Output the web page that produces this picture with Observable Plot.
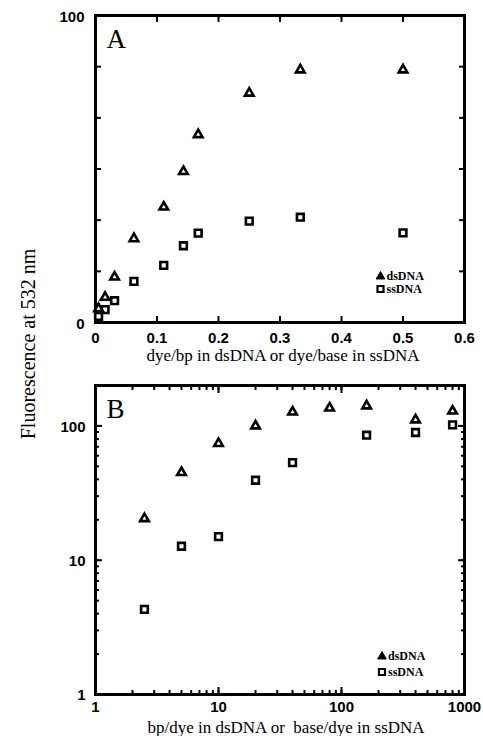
<!DOCTYPE html>
<html><head><meta charset="utf-8">
<script src="https://cdn.jsdelivr.net/npm/d3@7"></script>
<script src="https://cdn.jsdelivr.net/npm/@observablehq/plot@0.6"></script>
<style>
body{margin:0;background:#fff;}
#wrap{position:relative;width:483px;height:736px;overflow:hidden;background:#fff;}
#wrap svg{position:absolute;left:0;z-index:1;}
#ylab{position:absolute;z-index:5;left:28px;top:344px;transform:translate(-50%,-50%) rotate(-90deg);font-family:"Liberation Serif",serif;font-size:20px;white-space:nowrap;color:#000;}
</style></head><body>
<div id="wrap"><div id="ylab">Fluorescence at 532 nm</div></div>
<script>
// ---- Data: panel A (linear) ----
const aDsX = [0.005, 0.0156, 0.031, 0.0625, 0.111, 0.143, 0.167, 0.25, 0.333, 0.5];
const aDsY = [4.5, 8.2, 14.8, 27.3, 37.6, 49.2, 61.2, 74.7, 82.3, 82.3];
const aSsX = [0.005, 0.0156, 0.031, 0.0625, 0.111, 0.143, 0.167, 0.25, 0.333, 0.5];
const aSsY = [2.0, 4.2, 7.1, 13.4, 18.6, 25.0, 29.1, 33.0, 34.3, 29.2];
// ---- Data: panel B (log-log) ----
const bDsX = [2.5, 5, 10, 20, 40, 80, 160, 400, 800];
const bDsY = [20.4, 45, 74, 100, 127, 136, 141, 111, 129];
const bSsX = [2.5, 5, 10, 20, 40, 160, 400, 800];
const bSsY = [4.3, 12.7, 15.0, 39.4, 53.3, 85.3, 89.3, 101.7];
// ---- Ticks / labels ----
const aTicksX = [0, 0.1, 0.2, 0.3, 0.4, 0.5, 0.6];
const aTickLabelsX = ["0", "0.1", "0.2", "0.3", "0.4", "0.5", "0.6"];
const aTicksY = [0, 16.667, 33.333, 50, 66.667, 83.333, 100];
const aLabelTicksY = [0, 100];
const bMajorX = [1, 10, 100, 1000];
const bMajorY = [1, 10, 100];
const series = ["dsDNA", "ssDNA"];
const panelLetters = ["A", "B"];
const xTitleA = "dye/bp in dsDNA or dye/base in ssDNA";
const xTitleB = "bp/dye in dsDNA or\u00a0 base/dye in ssDNA";

const serif = "Liberation Serif";
const sans = "Liberation Sans";
const W = 483, ML = 95, MR = 19;
const pts = (xs, ys) => xs.map((x, i) => ({x, y: ys[i]}));

const tickStyle = {fill: "none", label: null, strokeWidth: 2};
const labStyle = {tickSize: 0, label: null, fontFamily: sans, fontWeight: "bold", fontSize: 15};
const dotStyle = {stroke: "black", fill: "white", strokeWidth: 2.6};

function legend(dx, dyT, dyS) {
  return [
    Plot.dot([series[0]], {frameAnchor: "bottom-right", dx: dx, dy: dyT, symbol: "triangle", r: 3.2, fill: "black", stroke: "black", strokeWidth: 1}),
    Plot.dot([series[1]], {frameAnchor: "bottom-right", dx: dx, dy: dyS, symbol: "square", r: 3.4, fill: "white", stroke: "black", strokeWidth: 2.2}),
    Plot.text([series[0]], {text: d => d, frameAnchor: "bottom-right", dx: dx + 6, dy: dyT, textAnchor: "start", lineAnchor: "middle", fontFamily: serif, fontWeight: "bold", fontSize: 12}),
    Plot.text([series[1]], {text: d => d, frameAnchor: "bottom-right", dx: dx + 6, dy: dyS, textAnchor: "start", lineAnchor: "middle", fontFamily: serif, fontWeight: "bold", fontSize: 12})
  ];
}

const plotA = Plot.plot({
  width: W, height: 365, marginLeft: ML, marginRight: MR, marginTop: 15, marginBottom: 43,
  style: {background: "white", color: "black", overflow: "visible"},
  x: {domain: [0, 0.6]},
  y: {domain: [0, 100]},
  marks: [
    Plot.axisX(aTicksX, {anchor: "bottom", tickSize: -6, ...tickStyle}),
    Plot.axisX(aTicksX, {anchor: "top", tickSize: -6, ...tickStyle}),
    Plot.axisY(aTicksY, {anchor: "right", tickSize: -6, ...tickStyle}),
    Plot.axisY(aTicksY, {anchor: "left", tickSize: -6, ...tickStyle}),
    Plot.axisX(aTicksX, {anchor: "bottom", tickPadding: 10, tickFormat: (d, i) => aTickLabelsX[i], ...labStyle}),
    Plot.axisY(aLabelTicksY, {anchor: "left", tickPadding: 11, dy: 2, tickFormat: d => String(d), ...labStyle}),
    Plot.frame({strokeWidth: 3}),
    Plot.dot(pts(aSsX, aSsY), {x: "x", y: "y", symbol: "square", r: 3.8, ...dotStyle}),
    Plot.dot(pts(aDsX, aDsY), {x: "x", y: "y", symbol: "triangle", r: 3.2, ...dotStyle}),
    ...legend(-84, -46, -33.5),
    Plot.text([panelLetters[0]], {text: d => d, frameAnchor: "top-left", dx: 11, dy: 32, textAnchor: "start", lineAnchor: "bottom", fontFamily: serif, fontSize: 27}),
    Plot.text([xTitleA], {text: d => d, frameAnchor: "bottom", dx: 3, dy: 38, lineAnchor: "bottom", fontFamily: serif, fontSize: 17})
  ]
});

const plotB = Plot.plot({
  width: W, height: 371, marginLeft: ML, marginRight: MR, marginTop: 20, marginBottom: 42,
  style: {background: "white", color: "black", overflow: "visible"},
  x: {type: "log", domain: [1, 1000]},
  y: {type: "log", domain: [1, 200]},
  marks: [
    Plot.axisX({anchor: "bottom", ticks: 30, tickSize: -4, ...tickStyle}),
    Plot.axisX({anchor: "top", ticks: 30, tickSize: -4, ...tickStyle}),
    Plot.axisY({anchor: "left", ticks: 30, tickSize: -4, ...tickStyle}),
    Plot.axisY({anchor: "right", ticks: 30, tickSize: -4, ...tickStyle}),
    Plot.axisX(bMajorX, {anchor: "bottom", tickSize: -7, ...tickStyle}),
    Plot.axisX(bMajorX, {anchor: "top", tickSize: -7, ...tickStyle}),
    Plot.axisY(bMajorY, {anchor: "left", tickSize: -7, ...tickStyle}),
    Plot.axisY(bMajorY, {anchor: "right", tickSize: -7, ...tickStyle}),
    Plot.axisX(bMajorX, {anchor: "bottom", tickPadding: 7, tickFormat: d => String(d), ...labStyle}),
    Plot.axisY(bMajorY, {anchor: "left", tickPadding: 10, dy: 1, tickFormat: d => String(d), ...labStyle}),
    Plot.frame({strokeWidth: 3}),
    Plot.dot(pts(bSsX, bSsY), {x: "x", y: "y", symbol: "square", r: 3.8, ...dotStyle}),
    Plot.dot(pts(bDsX, bDsY), {x: "x", y: "y", symbol: "triangle", r: 3.2, ...dotStyle}),
    ...legend(-82.5, -38, -22.5),
    Plot.text([panelLetters[1]], {text: d => d, frameAnchor: "top-left", dx: 11, dy: 32, textAnchor: "start", lineAnchor: "bottom", fontFamily: serif, fontSize: 27}),
    Plot.text([xTitleB], {text: d => d, frameAnchor: "bottom", dx: 6, dy: 38, lineAnchor: "bottom", fontFamily: serif, fontSize: 17})
  ]
});

const wrap = document.getElementById("wrap");
plotA.style.top = "0px";
plotB.style.top = "365px";
wrap.appendChild(plotA);
wrap.appendChild(plotB);
</script>
</body></html>
